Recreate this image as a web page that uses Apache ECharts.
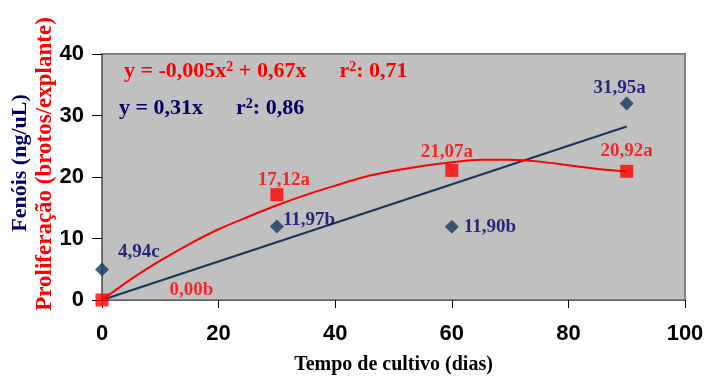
<!DOCTYPE html>
<html>
<head>
<meta charset="utf-8">
<script src="https://cdn.jsdelivr.net/npm/echarts@6/dist/echarts.min.js"></script>
<style>html,body{margin:0;padding:0;background:#fff}#c{width:722px;height:389px}</style>
</head>
<body>
<div id="c"></div>
<script>
// Data
var days = [0, 30, 60, 90];
var fenois = [4.94, 11.97, 11.90, 31.95];
var fenoisLetters = ['c', 'b', 'b', 'a'];
var prolif = [0.00, 17.12, 21.07, 20.92];
var prolifLetters = ['b', 'a', 'a', 'a'];
// Linear trendline (y = 0,31x) endpoints as drawn
var fenoisTrendX = [0, 90];
var fenoisTrendY = [0, 28.2];
// Polynomial trendline as drawn
var prolifTrendX = [0, 5, 10, 15, 20, 25, 30, 35, 40, 45, 50, 55, 60, 65, 70, 75, 80, 85, 90];
var prolifTrendY = [0, 3.4, 6.4, 9.1, 11.5, 13.5, 15.4, 17.1, 18.6, 20.0, 21.0, 21.8, 22.4, 22.8, 22.8, 22.5, 21.9, 21.3, 20.9];
var xTicks = [0, 20, 40, 60, 80, 100];
var yTicks = [0, 10, 20, 30, 40];

var BLUE = '#17375E', NAVY = '#000066', RED = '#FF0000';
var serif = '"Liberation Serif","Times New Roman",serif';
var sans = '"Liberation Sans",Arial,sans-serif';

function fmt(v) { return v.toFixed(2).replace('.', ','); }
function zip(a, b) { return a.map(function (v, i) { return [v, b[i]]; }); }

var blueLabelCfg = [
  {position: 'right', offset: [4, -18]},
  {position: 'right', offset: [-6, -6]},
  {position: 'right', offset: [0, 0]},
  {position: 'top', offset: [-7, 6]}
];
var redLabelCfg = [
  {position: 'right', offset: [56, -10]},
  {position: 'top', offset: [7, 6]},
  {position: 'top', offset: [-5, 3]},
  {position: 'top', offset: [0, 1]}
];

var blueData = days.map(function (d, i) {
  return {value: [d, fenois[i]], label: Object.assign({show: true, formatter: fmt(fenois[i]) + fenoisLetters[i]}, blueLabelCfg[i])};
});
var redData = days.map(function (d, i) {
  return {value: [d, prolif[i]], label: Object.assign({show: true, formatter: fmt(prolif[i]) + prolifLetters[i]}, redLabelCfg[i])};
});

var chart = echarts.init(document.getElementById('c'));
chart.setOption({
  animation: false,
  backgroundColor: '#fff',
  grid: {left: 102, right: 37, top: 54, bottom: 89, show: true, backgroundColor: '#C0C0C0', borderColor: '#808080', borderWidth: 2},
  xAxis: {
    type: 'value', min: xTicks[0], max: xTicks[xTicks.length - 1], interval: 20,
    axisLine: {show: true, lineStyle: {color: '#606060', width: 1}},
    axisTick: {show: true, length: 8, lineStyle: {color: '#000'}},
    splitLine: {show: false},
    axisLabel: {color: '#000', fontFamily: sans, fontWeight: 'bold', fontSize: 22, margin: 23},
    name: 'Tempo de cultivo (dias)', nameLocation: 'middle', nameGap: 55,
    nameTextStyle: {color: '#000', fontFamily: serif, fontWeight: 'bold', fontSize: 20}
  },
  yAxis: {
    type: 'value', min: yTicks[0], max: yTicks[yTicks.length - 1], interval: 10,
    axisLine: {show: true, lineStyle: {color: '#606060', width: 1}},
    axisTick: {show: true, length: 10, lineStyle: {color: '#000'}},
    splitLine: {show: false},
    axisLabel: {color: '#000', fontFamily: sans, fontWeight: 'bold', fontSize: 22, margin: 18}
  },
  title: [
    {left: 119, top: 55, text: '{t|y = -0,005x}{s|2}{t| + 0,67x      r}{s|2}{t|: 0,71}',
     textStyle: {rich: {t: {color: RED, fontFamily: serif, fontWeight: 'bold', fontSize: 22}, s: {color: RED, fontFamily: serif, fontWeight: 'bold', fontSize: 14, padding: [0, 0, 8, 0]}}}},
    {left: 114, top: 92, text: '{t|y = 0,31x      r}{s|2}{t|: 0,86}',
     textStyle: {rich: {t: {color: NAVY, fontFamily: serif, fontWeight: 'bold', fontSize: 22}, s: {color: NAVY, fontFamily: serif, fontWeight: 'bold', fontSize: 14, padding: [0, 0, 8, 0]}}}}
  ],
  graphic: [
    {type: 'text', x: 20, y: 163, rotation: Math.PI / 2,
     style: {text: 'Fenóis (ng/uL)', fill: NAVY, font: 'bold 22px ' + serif, textAlign: 'center', textVerticalAlign: 'middle'}},
    {type: 'text', x: 45, y: 164, rotation: Math.PI / 2,
     style: {text: 'Proliferação (brotos/explante)', fill: RED, font: 'bold 23px ' + serif, textAlign: 'center', textVerticalAlign: 'middle'}}
  ],
  series: [
    {type: 'line', data: zip(fenoisTrendX, fenoisTrendY), showSymbol: false, symbol: 'none',
     lineStyle: {color: BLUE, width: 2}, z: 2},
    {type: 'line', data: zip(prolifTrendX, prolifTrendY), smooth: 0.3, showSymbol: false, symbol: 'none',
     lineStyle: {color: RED, width: 2}, z: 2},
    {type: 'scatter', data: blueData, symbol: 'diamond', symbolSize: 14,
     itemStyle: {color: BLUE},
     label: {color: NAVY, fontFamily: serif, fontWeight: 'bold', fontSize: 19, distance: 5}, z: 3},
    {type: 'scatter', data: redData, symbol: 'rect', symbolSize: 13,
     itemStyle: {color: RED},
     label: {color: RED, fontFamily: serif, fontWeight: 'bold', fontSize: 19, distance: 5}, z: 4}
  ]
});
</script>
</body>
</html>
